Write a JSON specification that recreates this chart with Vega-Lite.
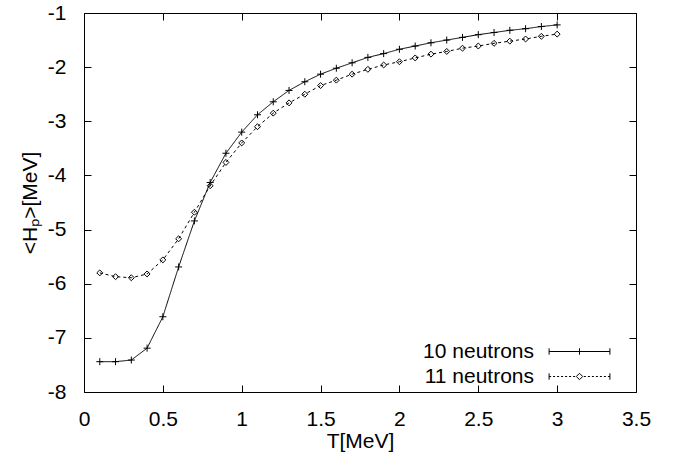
{
  "$schema": "https://vega.github.io/schema/vega-lite/v6.json",
  "autosize": "none",
  "width": 552,
  "height": 379,
  "padding": {"left": 84, "top": 13, "right": 42, "bottom": 65},
  "background": "white",
  "config": {
    "view": {"stroke": "black", "strokeWidth": 1},
    "font": "Liberation Sans",
    "axis": {
      "grid": false,
      "domain": false,
      "tickColor": "black",
      "tickSize": -7,
      "labelFont": "Liberation Sans",
      "labelFontSize": 21,
      "labelColor": "black",
      "titleFont": "Liberation Sans",
      "titleFontSize": 21,
      "titleFontWeight": "normal",
      "titleColor": "black"
    }
  },
  "data": {
    "values": [
      {"T": 0.1, "H": -7.44, "series": "10 neutrons"},
      {"T": 0.2, "H": -7.44, "series": "10 neutrons"},
      {"T": 0.3, "H": -7.41, "series": "10 neutrons"},
      {"T": 0.4, "H": -7.19, "series": "10 neutrons"},
      {"T": 0.5, "H": -6.61, "series": "10 neutrons"},
      {"T": 0.6, "H": -5.69, "series": "10 neutrons"},
      {"T": 0.7, "H": -4.84, "series": "10 neutrons"},
      {"T": 0.8, "H": -4.13, "series": "10 neutrons"},
      {"T": 0.9, "H": -3.59, "series": "10 neutrons"},
      {"T": 1.0, "H": -3.20, "series": "10 neutrons"},
      {"T": 1.1, "H": -2.88, "series": "10 neutrons"},
      {"T": 1.2, "H": -2.64, "series": "10 neutrons"},
      {"T": 1.3, "H": -2.43, "series": "10 neutrons"},
      {"T": 1.4, "H": -2.27, "series": "10 neutrons"},
      {"T": 1.5, "H": -2.13, "series": "10 neutrons"},
      {"T": 1.6, "H": -2.02, "series": "10 neutrons"},
      {"T": 1.7, "H": -1.92, "series": "10 neutrons"},
      {"T": 1.8, "H": -1.82, "series": "10 neutrons"},
      {"T": 1.9, "H": -1.75, "series": "10 neutrons"},
      {"T": 2.0, "H": -1.67, "series": "10 neutrons"},
      {"T": 2.1, "H": -1.61, "series": "10 neutrons"},
      {"T": 2.2, "H": -1.55, "series": "10 neutrons"},
      {"T": 2.3, "H": -1.50, "series": "10 neutrons"},
      {"T": 2.4, "H": -1.45, "series": "10 neutrons"},
      {"T": 2.5, "H": -1.40, "series": "10 neutrons"},
      {"T": 2.6, "H": -1.36, "series": "10 neutrons"},
      {"T": 2.7, "H": -1.32, "series": "10 neutrons"},
      {"T": 2.8, "H": -1.29, "series": "10 neutrons"},
      {"T": 2.9, "H": -1.25, "series": "10 neutrons"},
      {"T": 3.0, "H": -1.22, "series": "10 neutrons"},
      {"T": 0.1, "H": -5.80, "series": "11 neutrons"},
      {"T": 0.2, "H": -5.87, "series": "11 neutrons"},
      {"T": 0.3, "H": -5.89, "series": "11 neutrons"},
      {"T": 0.4, "H": -5.82, "series": "11 neutrons"},
      {"T": 0.5, "H": -5.56, "series": "11 neutrons"},
      {"T": 0.6, "H": -5.17, "series": "11 neutrons"},
      {"T": 0.7, "H": -4.68, "series": "11 neutrons"},
      {"T": 0.8, "H": -4.19, "series": "11 neutrons"},
      {"T": 0.9, "H": -3.76, "series": "11 neutrons"},
      {"T": 1.0, "H": -3.40, "series": "11 neutrons"},
      {"T": 1.1, "H": -3.10, "series": "11 neutrons"},
      {"T": 1.2, "H": -2.85, "series": "11 neutrons"},
      {"T": 1.3, "H": -2.66, "series": "11 neutrons"},
      {"T": 1.4, "H": -2.50, "series": "11 neutrons"},
      {"T": 1.5, "H": -2.34, "series": "11 neutrons"},
      {"T": 1.6, "H": -2.24, "series": "11 neutrons"},
      {"T": 1.7, "H": -2.13, "series": "11 neutrons"},
      {"T": 1.8, "H": -2.04, "series": "11 neutrons"},
      {"T": 1.9, "H": -1.96, "series": "11 neutrons"},
      {"T": 2.0, "H": -1.90, "series": "11 neutrons"},
      {"T": 2.1, "H": -1.83, "series": "11 neutrons"},
      {"T": 2.2, "H": -1.76, "series": "11 neutrons"},
      {"T": 2.3, "H": -1.71, "series": "11 neutrons"},
      {"T": 2.4, "H": -1.65, "series": "11 neutrons"},
      {"T": 2.5, "H": -1.61, "series": "11 neutrons"},
      {"T": 2.6, "H": -1.56, "series": "11 neutrons"},
      {"T": 2.7, "H": -1.52, "series": "11 neutrons"},
      {"T": 2.8, "H": -1.48, "series": "11 neutrons"},
      {"T": 2.9, "H": -1.43, "series": "11 neutrons"},
      {"T": 3.0, "H": -1.39, "series": "11 neutrons"}
    ]
  },
  "resolve": {
    "axis": {"x": "independent", "y": "independent"},
    "scale": {"shape": "independent"}
  },
  "layer": [
    {
      "mark": {"type": "line", "color": "black", "strokeWidth": 1, "clip": true},
      "encoding": {
        "x": {
          "field": "T", "type": "quantitative",
          "scale": {"domain": [0, 3.5], "nice": false, "zero": false},
          "axis": {
            "orient": "bottom",
            "values": [0, 0.5, 1, 1.5, 2, 2.5, 3, 3.5],
            "labelExpr": "datum.value + ''",
            "labelPadding": 23,
            "labelFlush": false,
            "title": "T[MeV]",
            "titlePadding": 1
          }
        },
        "y": {
          "field": "H", "type": "quantitative",
          "scale": {"domain": [-8, -1], "nice": false, "zero": false},
          "axis": {
            "orient": "left",
            "values": [-8, -7, -6, -5, -4, -3, -2, -1],
            "labelExpr": "datum.value + ''",
            "labelPadding": 25,
            "labelFlush": false,
            "title": "<Hₚ>[MeV]",
            "titlePadding": 7
          }
        },
        "strokeDash": {
          "field": "series", "type": "nominal",
          "scale": {"domain": ["10 neutrons", "11 neutrons"], "range": [[1, 0], [3, 3]]},
          "legend": null
        },
        "detail": {"field": "series"}
      }
    },
    {
      "mark": {"type": "point", "filled": false, "color": "black", "strokeWidth": 1, "size": 49, "opacity": 1},
      "encoding": {
        "x": {
          "field": "T", "type": "quantitative",
          "scale": {"domain": [0, 3.5], "nice": false, "zero": false},
          "axis": {"orient": "top", "values": [0, 0.5, 1, 1.5, 2, 2.5, 3, 3.5], "labels": false, "title": null}
        },
        "y": {
          "field": "H", "type": "quantitative",
          "scale": {"domain": [-8, -1], "nice": false, "zero": false},
          "axis": {"orient": "right", "values": [-8, -7, -6, -5, -4, -3, -2, -1], "labels": false, "title": null}
        },
        "shape": {
          "field": "series", "type": "nominal",
          "scale": {"domain": ["10 neutrons", "11 neutrons"], "range": ["M-1,0H1M0,-1V1", "M-0.85,0L0,-0.85L0.85,0L0,0.85Z"]},
          "legend": null
        }
      }
    },
    {
      "mark": {"type": "point", "filled": false, "color": "black", "opacity": 0},
      "encoding": {
        "x": {"field": "T", "type": "quantitative", "axis": null},
        "y": {"field": "H", "type": "quantitative", "axis": null},
        "shape": {
          "field": "series", "type": "nominal",
          "scale": {
            "domain": ["10 neutrons", "11 neutrons"],
            "range": [
              "M-3.8,0H3.8M-3.8,-0.4V0.4M3.8,-0.4V0.4M0,-0.4V0.4",
              "M-3.8,0H-3.55M-3.3,0H-3.05M-2.8,0H-2.55M-2.3,0H-2.05M-1.8,0H-1.55M-1.3,0H-1.05M-0.8,0H-0.55M0.55,0H0.8M1.05,0H1.3M1.55,0H1.8M2.05,0H2.3M2.55,0H2.8M3.05,0H3.3M3.55,0H3.8M-3.8,-0.4V0.4M3.8,-0.4V0.4M0,-0.4L0.4,0L0,0.4L-0.4,0Z"
            ]
          },
          "legend": {
            "title": null,
            "orient": "none",
            "legendX": 485,
            "legendY": 328,
            "padding": 0,
            "symbolSize": 256,
            "symbolStrokeColor": "black",
            "symbolStrokeWidth": 1,
            "symbolFillColor": "transparent",
            "symbolOpacity": 1,
            "labelFont": "Liberation Sans",
            "labelFontSize": 21,
            "labelColor": "black",
            "labelAlign": "right",
            "labelOffset": -56,
            "rowPadding": 3
          }
        }
      }
    }
  ]
}
